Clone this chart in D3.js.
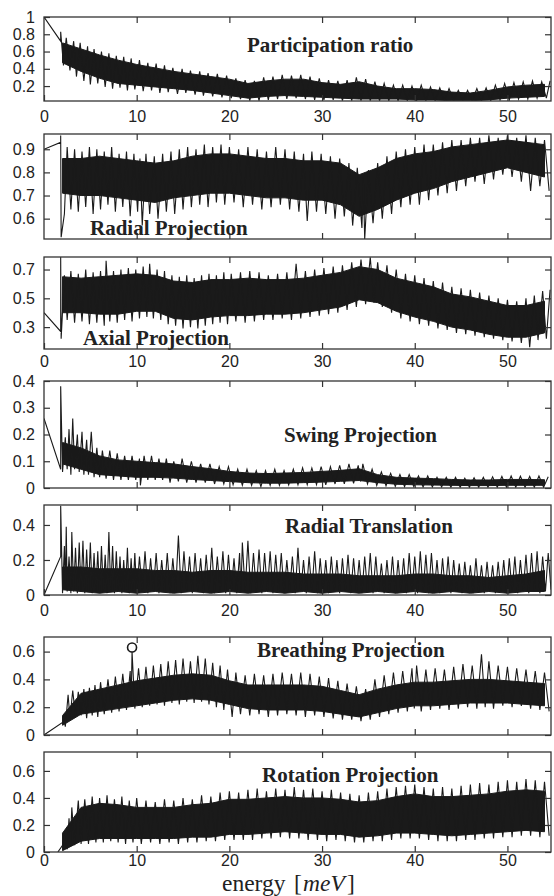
<!DOCTYPE html>
<html>
<head>
<meta charset="utf-8">
<script src="https://cdn.jsdelivr.net/npm/d3@7"></script>
<style>
body { margin: 0; background: #fff; }
</style>
</head>
<body>
<div id="chart"></div>
<script>
// energy grid of the band readings (meV)
var energy = [2,4,6,8,10,12,14,16,18,20,22,24,26,28,30,32,34,36,38,40,42,44,46,48,50,52,54];
var xTicks = [0,10,20,30,40,50];

// participation ratio
var prHi = [.70,.63,.56,.50,.45,.41,.37,.34,.31,.28,.23,.26,.28,.28,.24,.22,.25,.20,.17,.17,.16,.13,.12,.15,.19,.21,.22];
var prLo = [.47,.37,.29,.23,.21,.19,.17,.15,.12,.09,.06,.08,.09,.08,.07,.06,.05,.05,.05,.04,.04,.03,.03,.04,.06,.07,.08];
var prLead = [[0,1],[1.8,0.72]];
var prTrace = [[1.8,.83],[2.1,.44],[2.4,.76],[2.8,.38],[3.2,.72],[3.5,.31],[3.9,.70],[4.3,.26],[4.7,.66],[5.0,.22],[5.4,.63],[5.8,.23],[6.2,.60],[6.6,.19],[7.0,.58],[7.4,.17],[7.8,.55],[8.2,.18],[8.6,.54],[9.0,.15],[9.4,.52],[9.8,.16],[10.3,.50],[10.7,.14],[11.2,.47],[11.6,.15],[12.1,.46],[12.5,.12],[13.0,.44],[13.4,.13],[13.9,.41],[14.4,.11],[14.9,.40],[15.3,.12],[15.8,.38],[16.3,.10],[16.8,.37],[17.2,.09],[17.7,.35],[18.2,.08],[18.7,.34],[19.2,.07],[19.7,.32],[20.2,.06],[20.7,.29],[21.2,.05],[21.7,.27],[22.2,.03],[22.7,.26],[23.2,.03],[23.7,.30],[24.2,.04],[24.7,.31],[25.2,.05],[25.7,.33],[26.2,.05],[26.7,.32],[27.2,.06],[27.7,.33],[28.2,.05],[28.7,.31],[29.2,.04],[29.7,.29],[30.2,.04],[30.7,.27],[31.2,.04],[31.7,.26],[32.2,.03],[32.7,.27],[33.2,.03],[33.7,.30],[34.2,.03],[34.7,.28],[35.2,.03],[35.7,.25],[36.2,.03],[36.7,.23],[37.2,.03],[37.7,.21],[38.2,.03],[38.7,.21],[39.2,.03],[39.7,.20],[40.2,.03],[40.7,.21],[41.2,.03],[41.7,.19],[42.2,.03],[42.7,.18],[43.2,.03],[43.7,.17],[44.2,.03],[44.7,.15],[45.2,.03],[45.7,.15],[46.2,.03],[46.7,.17],[47.2,.03],[47.7,.18],[48.2,.03],[48.7,.21],[49.2,.04],[49.7,.23],[50.2,.04],[50.7,.24],[51.2,.05],[51.7,.25],[52.2,.05],[52.7,.26],[53.2,.06],[53.7,.25],[54.2,.06],[54.6,.26]];

// radial projection
var radHi = [.86,.86,.87,.86,.85,.84,.85,.87,.88,.88,.87,.86,.86,.85,.85,.84,.79,.82,.86,.88,.89,.91,.92,.93,.94,.93,.92];
var radLo = [.71,.70,.70,.69,.68,.67,.69,.70,.71,.71,.70,.69,.69,.68,.68,.66,.61,.64,.68,.71,.73,.76,.78,.80,.82,.80,.78];
var radLead = [[0,0.90],[1.8,0.93]];
var radTrace = [[1.8,.96],[1.85,.52],[2.2,.62],[2.5,.91],[2.9,.64],[3.3,.90],[3.7,.63],[4.1,.89],[4.5,.65],[4.9,.91],[5.3,.62],[5.7,.90],[6.1,.64],[6.5,.89],[6.9,.66],[7.3,.91],[7.7,.63],[8.1,.88],[8.5,.65],[8.9,.89],[9.3,.61],[9.7,.88],[10.1,.63],[10.35,.86],[10.6,.57],[11.0,.88],[11.4,.62],[11.9,.87],[12.3,.60],[12.8,.88],[13.2,.63],[13.7,.89],[14.1,.62],[14.6,.90],[15.0,.64],[15.5,.91],[15.9,.65],[16.4,.90],[16.8,.66],[17.3,.92],[17.7,.65],[18.2,.91],[18.6,.67],[19.1,.92],[19.5,.66],[20.0,.91],[20.5,.67],[21.0,.90],[21.5,.65],[22.0,.91],[22.5,.66],[23.0,.90],[23.5,.64],[24.0,.89],[24.5,.65],[25.0,.91],[25.5,.66],[26.0,.90],[26.5,.64],[27.0,.89],[27.5,.63],[28.0,.88],[28.4,.59],[28.9,.89],[29.4,.63],[29.9,.88],[30.4,.62],[30.9,.87],[31.4,.60],[31.9,.86],[32.4,.61],[32.9,.84],[33.3,.57],[33.8,.82],[34.3,.56],[34.45,.78],[34.6,.51],[35.0,.81],[35.5,.58],[36.0,.84],[36.5,.60],[37.0,.87],[37.5,.62],[38.0,.89],[38.5,.65],[39.0,.90],[39.5,.66],[40.0,.91],[40.5,.66],[41.0,.92],[41.5,.68],[42.0,.92],[42.5,.70],[43.0,.93],[43.5,.71],[44.0,.94],[44.5,.72],[45.0,.94],[45.5,.74],[46.0,.95],[46.5,.76],[47.0,.95],[47.5,.75],[48.0,.96],[48.5,.77],[49.0,.95],[49.5,.79],[50.0,.96],[50.5,.78],[51.0,.95],[51.5,.76],[52.0,.96],[52.5,.72],[53.0,.95],[53.5,.74],[54.0,.94],[54.5,.72]];

// axial projection
var axHi = [.65,.64,.65,.66,.67,.66,.62,.61,.63,.63,.64,.63,.63,.64,.66,.68,.72,.70,.64,.61,.58,.53,.51,.48,.45,.45,.48];
var axLo = [.40,.40,.39,.39,.41,.41,.36,.35,.37,.38,.38,.39,.39,.40,.42,.44,.49,.47,.41,.37,.34,.30,.28,.25,.23,.23,.26];
var axLead = [[0,0.40],[1.8,0.27]];
var axTrace = [[1.8,.787],[1.85,.22],[2.2,.66],[2.5,.35],[2.9,.69],[3.3,.33],[3.7,.67],[4.1,.34],[4.5,.70],[4.9,.32],[5.3,.68],[5.7,.33],[6.1,.69],[6.5,.31],[6.7,.76],[7.1,.34],[7.5,.69],[7.9,.33],[8.3,.70],[8.7,.35],[9.1,.71],[9.5,.34],[9.9,.70],[10.3,.36],[10.7,.72],[11.1,.37],[11.4,.74],[11.8,.36],[12.2,.70],[12.6,.35],[13.0,.69],[13.4,.32],[13.8,.66],[14.2,.31],[14.6,.65],[15.0,.29],[15.4,.66],[15.8,.30],[16.2,.64],[16.6,.29],[17.0,.66],[17.4,.31],[17.8,.67],[18.2,.32],[18.6,.66],[19.0,.33],[19.4,.68],[19.8,.32],[20.2,.67],[20.7,.34],[21.2,.68],[21.7,.33],[22.2,.69],[22.7,.34],[23.2,.68],[23.7,.35],[24.2,.66],[24.7,.35],[25.2,.67],[25.7,.36],[26.2,.68],[26.7,.35],[27.2,.74],[27.7,.36],[28.2,.69],[28.7,.37],[29.2,.70],[29.7,.38],[30.2,.71],[30.7,.39],[31.2,.72],[31.7,.40],[32.2,.73],[32.7,.42],[33.2,.75],[33.7,.44],[34.2,.77],[34.7,.46],[35.2,.785],[35.6,.47],[36.0,.75],[36.5,.44],[37.0,.73],[37.5,.40],[38.0,.70],[38.5,.36],[39.0,.67],[39.5,.34],[40.0,.66],[40.5,.32],[41.0,.64],[41.5,.31],[42.0,.62],[42.5,.29],[43.0,.61],[43.5,.28],[44.0,.58],[44.5,.26],[45.0,.57],[45.5,.25],[46.0,.56],[46.5,.24],[47.0,.54],[47.5,.23],[48.0,.52],[48.5,.22],[49.0,.50],[49.5,.21],[50.0,.49],[50.5,.20],[51.0,.48],[51.5,.19],[52.0,.50],[52.4,.16],[52.9,.52],[53.3,.21],[53.8,.55],[54.2,.22],[54.6,.56]];

// swing projection
var swHi = [.17,.15,.12,.105,.10,.095,.09,.08,.072,.062,.056,.054,.056,.058,.062,.066,.072,.05,.04,.037,.035,.032,.03,.03,.032,.032,.031];
var swLo = [.09,.07,.05,.045,.04,.04,.037,.032,.028,.024,.02,.018,.018,.02,.022,.025,.028,.02,.014,.012,.011,.01,.009,.009,.01,.01,.01];
var swLead = [[0,0.26],[1.8,0.07]];
var swTrace = [[1.8,.38],[2.0,.06],[2.3,.19],[2.5,.07],[2.7,.22],[2.9,.05],[3.1,.26],[3.3,.07],[3.6,.20],[3.8,.06],[4.1,.21],[4.3,.05],[4.6,.18],[4.8,.05],[5.1,.21],[5.4,.04],[5.7,.15],[6.0,.04],[6.3,.14],[6.7,.035],[7.1,.14],[7.5,.03],[7.9,.13],[8.3,.03],[8.7,.12],[9.1,.03],[9.5,.12],[9.9,.03],[10.3,.11],[10.4,.01],[10.8,.12],[11.2,.03],[11.6,.12],[12.0,.03],[12.4,.11],[12.8,.03],[13.2,.11],[13.6,.02],[14.0,.10],[14.5,.025],[14.9,.11],[15.4,.02],[15.9,.10],[16.4,.02],[16.9,.09],[17.4,.02],[17.9,.09],[18.4,.015],[18.9,.08],[19.4,.015],[19.9,.08],[20.4,.012],[20.9,.07],[21.4,.01],[21.9,.07],[22.4,.01],[22.9,.065],[23.4,.005],[23.9,.065],[24.4,.01],[24.9,.07],[25.4,.01],[25.9,.065],[26.4,.012],[26.9,.07],[27.4,.012],[27.9,.075],[28.4,.012],[28.9,.075],[29.4,.013],[29.9,.08],[30.4,.012],[30.9,.08],[31.4,.015],[31.9,.085],[32.4,.015],[32.9,.09],[33.4,.017],[33.9,.085],[34.15,.025],[34.4,.09],[34.9,.015],[35.4,.07],[35.9,.01],[36.4,.06],[36.9,.008],[37.4,.055],[37.9,.006],[38.4,.05],[38.9,.005],[39.4,.05],[39.9,.005],[40.4,.045],[40.9,.004],[41.4,.045],[41.9,.004],[42.4,.04],[42.9,.004],[43.4,.04],[43.9,.003],[44.4,.04],[44.9,.003],[45.4,.037],[45.9,.003],[46.4,.038],[46.9,.003],[47.4,.04],[47.9,.003],[48.4,.042],[48.9,.003],[49.4,.043],[49.9,.003],[50.4,.045],[50.9,.003],[51.4,.044],[51.9,.003],[52.4,.043],[52.9,.003],[53.4,.045],[53.9,.003],[54.4,.042]];

// radial translation
var rtHi = [.16,.16,.15,.15,.15,.14,.14,.13,.14,.14,.13,.13,.13,.12,.12,.12,.11,.11,.11,.12,.12,.11,.11,.10,.11,.12,.14];
var rtLo = [.03,.02,.01,.02,.01,.02,.01,.02,.01,.02,.01,.02,.01,.02,.01,.02,.01,.02,.01,.02,.01,.02,.01,.02,.01,.02,.02];
var rtLead = [[0,0],[1.8,0.22]];
var rtTrace = [[1.8,.51],[2.0,.01],[2.2,.28],[2.3,.03],[2.4,.39],[2.5,.02],[2.7,.22],[2.9,.01],[3.0,.36],[3.2,.02],[3.4,.27],[3.6,.01],[3.8,.30],[4.0,.02],[4.2,.31],[4.4,.01],[4.6,.26],[4.8,.02],[5.0,.30],[5.2,.01],[5.4,.24],[5.6,.02],[5.8,.25],[6.0,.01],[6.2,.28],[6.4,.02],[6.6,.23],[6.8,.01],[7.0,.36],[7.2,.02],[7.4,.28],[7.6,.01],[7.8,.25],[8.0,.02],[8.2,.22],[8.4,.01],[8.6,.20],[8.8,.02],[9.0,.27],[9.2,.01],[9.4,.21],[9.6,.02],[9.8,.24],[10.0,.01],[10.3,.22],[10.6,.02],[10.9,.25],[11.2,.01],[11.5,.21],[11.8,.02],[12.1,.24],[12.4,.01],[12.7,.20],[13.0,.02],[13.3,.24],[13.6,.01],[13.9,.21],[14.2,.02],[14.5,.34],[14.8,.01],[15.1,.25],[15.4,.02],[15.7,.22],[16.0,.01],[16.3,.24],[16.6,.02],[16.9,.21],[17.2,.01],[17.5,.23],[17.8,.02],[18.1,.27],[18.4,.01],[18.7,.22],[19.0,.02],[19.3,.25],[19.6,.01],[19.9,.23],[20.2,.02],[20.5,.21],[20.8,.01],[21.1,.24],[21.25,.02],[21.4,.30],[21.7,.02],[22.0,.31],[22.3,.01],[22.6,.24],[22.9,.02],[23.2,.26],[23.5,.01],[23.8,.24],[24.1,.02],[24.4,.25],[24.7,.01],[25.0,.23],[25.3,.02],[25.6,.24],[25.9,.01],[26.2,.20],[26.5,.02],[26.8,.22],[27.1,.01],[27.4,.27],[27.7,.02],[28.0,.20],[28.3,.01],[28.6,.22],[28.9,.02],[29.2,.25],[29.5,.01],[29.8,.21],[30.1,.02],[30.4,.20],[30.7,.01],[31.0,.22],[31.3,.02],[31.6,.20],[31.9,.01],[32.2,.21],[32.5,.02],[32.8,.23],[33.1,.01],[33.4,.21],[33.7,.02],[34.0,.20],[34.3,.01],[34.6,.22],[34.9,.02],[35.2,.24],[35.5,.01],[35.8,.22],[36.1,.02],[36.4,.18],[36.7,.01],[37.0,.20],[37.3,.02],[37.6,.22],[37.9,.01],[38.2,.20],[38.5,.02],[38.8,.21],[39.1,.01],[39.4,.24],[39.7,.02],[40.0,.22],[40.3,.01],[40.6,.25],[40.9,.02],[41.2,.23],[41.5,.01],[41.8,.24],[42.1,.02],[42.4,.20],[42.7,.01],[43.0,.21],[43.3,.02],[43.6,.22],[43.9,.01],[44.2,.20],[44.5,.02],[44.8,.18],[45.1,.01],[45.4,.19],[45.7,.02],[46.0,.17],[46.3,.01],[46.6,.21],[46.9,.02],[47.2,.17],[47.5,.01],[47.8,.19],[48.1,.02],[48.4,.17],[48.7,.01],[49.0,.19],[49.3,.02],[49.6,.20],[49.9,.01],[50.2,.21],[50.5,.02],[50.8,.22],[51.1,.01],[51.4,.20],[51.7,.02],[52.0,.23],[52.3,.01],[52.6,.24],[52.9,.02],[53.2,.25],[53.5,.01],[53.8,.22],[54.1,.02],[54.4,.24],[54.7,.03]];

// breathing projection
var brHi = [.14,.30,.33,.36,.39,.41,.43,.44,.43,.39,.36,.36,.36,.36,.35,.32,.29,.33,.36,.38,.38,.39,.40,.40,.39,.38,.37];
var brLo = [.07,.15,.17,.19,.21,.23,.25,.26,.25,.22,.19,.18,.18,.18,.17,.15,.13,.16,.19,.21,.21,.22,.23,.23,.23,.22,.21];
var brLead = [[0,0],[2.0,0.09]];
var brTrace = [[2.1,.13],[2.3,.06],[2.6,.29],[2.8,.12],[3.1,.32],[3.4,.13],[3.7,.31],[4.0,.14],[4.3,.33],[4.6,.12],[4.9,.34],[5.2,.14],[5.5,.36],[5.8,.13],[6.1,.38],[6.5,.15],[6.9,.40],[7.3,.16],[7.7,.42],[8.1,.17],[8.5,.44],[8.9,.18],[9.3,.46],[9.4,.22],[9.5,.60],[9.8,.19],[10.2,.48],[10.6,.20],[11.0,.49],[11.4,.21],[11.8,.50],[12.2,.22],[12.6,.51],[13.0,.21],[13.4,.53],[13.8,.23],[14.2,.54],[14.6,.22],[15.0,.55],[15.4,.24],[15.8,.53],[16.2,.23],[16.6,.57],[17.0,.24],[17.4,.55],[17.8,.22],[18.2,.52],[18.6,.20],[19.0,.50],[19.4,.18],[19.8,.47],[20.3,.13],[20.7,.45],[21.2,.15],[21.7,.43],[22.2,.14],[22.7,.44],[23.2,.15],[23.7,.43],[24.2,.13],[24.7,.44],[25.2,.14],[25.7,.45],[26.2,.15],[26.7,.44],[27.2,.14],[27.7,.45],[28.2,.13],[28.7,.44],[29.2,.14],[29.7,.42],[30.2,.13],[30.7,.41],[31.2,.12],[31.7,.39],[32.2,.11],[32.7,.37],[33.2,.11],[33.7,.35],[34.2,.10],[34.7,.33],[35.2,.11],[35.7,.40],[36.2,.13],[36.7,.43],[37.2,.15],[37.7,.45],[38.2,.16],[38.7,.46],[39.2,.17],[39.7,.48],[39.95,.19],[40.2,.50],[40.7,.17],[41.2,.47],[41.7,.18],[42.2,.48],[42.7,.19],[43.2,.47],[43.7,.18],[44.2,.49],[44.7,.19],[45.2,.51],[45.7,.20],[46.2,.50],[46.7,.19],[47.2,.58],[47.6,.20],[48.0,.53],[48.5,.19],[49.0,.50],[49.5,.21],[50.0,.49],[50.5,.20],[51.0,.48],[51.5,.21],[52.0,.47],[52.5,.19],[53.0,.46],[53.5,.18],[54.0,.45],[54.5,.17]];
var brMark = [[9.5,0.63]];

// rotation projection
var rotHi = [.14,.33,.36,.35,.33,.33,.33,.35,.36,.39,.39,.40,.41,.40,.40,.39,.37,.38,.41,.43,.41,.41,.42,.43,.45,.46,.45];
var rotLo = [.01,.08,.10,.10,.10,.10,.10,.11,.11,.13,.13,.14,.15,.14,.13,.13,.11,.12,.14,.14,.13,.12,.13,.14,.15,.16,.15];
var rotLead = [[1.5,0],[2.0,0.05]];
var rotTrace = [[2.2,.12],[2.5,.02],[2.7,.25],[2.85,.06],[3.0,.33],[3.3,.05],[3.7,.38],[4.0,.06],[4.4,.39],[4.8,.06],[5.2,.41],[5.6,.07],[6.0,.40],[6.4,.07],[6.8,.42],[7.2,.08],[7.6,.39],[8.0,.07],[8.4,.41],[8.8,.06],[9.2,.38],[9.6,.07],[10.0,.40],[10.5,.06],[11.0,.38],[11.5,.07],[12.0,.37],[12.5,.06],[13.0,.39],[13.5,.07],[14.0,.38],[14.5,.06],[15.0,.40],[15.5,.07],[16.0,.39],[16.5,.07],[17.0,.42],[17.5,.08],[18.0,.41],[18.5,.08],[19.0,.44],[19.5,.09],[20.0,.45],[20.5,.09],[21.0,.44],[21.5,.09],[22.0,.46],[22.5,.09],[23.0,.47],[23.5,.10],[24.0,.45],[24.5,.10],[25.0,.47],[25.5,.11],[26.0,.46],[26.5,.10],[27.0,.48],[27.5,.10],[28.0,.46],[28.5,.09],[29.0,.47],[29.5,.09],[30.0,.45],[30.5,.08],[31.0,.46],[31.5,.09],[32.0,.44],[32.5,.08],[33.0,.43],[33.5,.07],[34.0,.42],[34.5,.07],[35.0,.44],[35.5,.08],[36.0,.45],[36.5,.08],[37.0,.47],[37.5,.09],[38.0,.48],[38.5,.10],[39.0,.49],[39.5,.10],[40.0,.50],[40.5,.10],[41.0,.48],[41.5,.09],[42.0,.47],[42.5,.08],[43.0,.48],[43.5,.08],[44.0,.47],[44.5,.08],[45.0,.49],[45.5,.09],[46.0,.50],[46.5,.09],[47.0,.51],[47.5,.10],[48.0,.50],[48.5,.10],[49.0,.52],[49.5,.11],[50.0,.53],[50.5,.11],[51.0,.52],[51.5,.12],[52.0,.54],[52.5,.12],[53.0,.53],[53.5,.11],[54.0,.52],[54.5,.12]];

var w = 554, h = 896;
var left = 44, right = 551;
var ink = "#1a1a1a";
var sans = "'Liberation Sans', Arial, Helvetica, sans-serif";
var serif = "'Liberation Serif', 'Times New Roman', serif";

var panels = [
  {title:"Participation ratio", hi:prHi, lo:prLo, lead:prLead, trace:prTrace, ticks:[0.2,0.4,0.6,0.8,1], domain:[0.027,1], top:17, bottom:101, labels:true, pad:10, tx:247, ty:52},
  {title:"Radial Projection", hi:radHi, lo:radLo, lead:radLead, trace:radTrace, ticks:[0.6,0.7,0.8,0.9], domain:[0.512,0.966], top:134, bottom:239, labels:false, tx:90, ty:235},
  {title:"Axial Projection", hi:axHi, lo:axLo, lead:axLead, trace:axTrace, ticks:[0.3,0.5,0.7], domain:[0.148,0.787], top:257, bottom:349, labels:true, pad:7, tx:83, ty:345},
  {title:"Swing Projection", hi:swHi, lo:swLo, lead:swLead, trace:swTrace, ticks:[0,0.1,0.2,0.3,0.4], domain:[0,0.4], top:381, bottom:488, labels:false, tx:284, ty:442},
  {title:"Radial Translation", hi:rtHi, lo:rtLo, lead:rtLead, trace:rtTrace, ticks:[0,0.2,0.4], domain:[0,0.514], top:505, bottom:595, labels:true, pad:10, tx:285, ty:533},
  {title:"Breathing Projection", hi:brHi, lo:brLo, lead:brLead, trace:brTrace, mark:brMark, ticks:[0,0.2,0.4,0.6], domain:[0,0.705], top:637, bottom:735, labels:false, tx:257, ty:657},
  {title:"Rotation Projection", hi:rotHi, lo:rotLo, lead:rotLead, trace:rotTrace, ticks:[0,0.2,0.4,0.6], domain:[0,0.74], top:752, bottom:852, labels:true, pad:3, tx:262, ty:782}
];

var svg = d3.select("#chart")
  .append("svg")
  .attr("width", w)
  .attr("height", h)
  .style("background", "#fff");

var x = d3.scaleLinear().domain([0, 54.7]).range([left, right]);

panels.forEach(function(p, k){
  var y = d3.scaleLinear().domain(p.domain).range([p.bottom, p.top]);
  var g = svg.append("g");

  svg.append("clipPath").attr("id", "clip" + k)
    .append("rect")
    .attr("x", left).attr("y", p.top)
    .attr("width", right - left).attr("height", p.bottom - p.top);

  var data = g.append("g").attr("clip-path", "url(#clip" + k + ")");

  // dense core of the noisy signal
  var band = energy.map(function(e, i){ return {e: e, hi: p.hi[i], lo: p.lo[i]}; });
  data.append("path")
    .datum(band)
    .attr("d", d3.area()
      .x(function(d){ return x(d.e); })
      .y0(function(d){ return y(d.lo); })
      .y1(function(d){ return y(d.hi); }))
    .attr("fill", ink)
    .attr("stroke", ink)
    .attr("stroke-width", 1);

  // the signal itself: lead-in segment, then the traced extremes
  var pts = p.lead.concat(d3.sort(p.trace, function(d){ return d[0]; }));
  data.append("path")
    .datum(pts)
    .attr("d", d3.line().x(function(d){ return x(d[0]); }).y(function(d){ return y(d[1]); }))
    .attr("fill", "none")
    .attr("stroke", ink)
    .attr("stroke-width", 1.1);

  if (p.mark) {
    g.selectAll("circle")
      .data(p.mark)
      .enter()
      .append("circle")
      .attr("cx", function(d){ return x(d[0]); })
      .attr("cy", function(d){ return y(d[1]); })
      .attr("r", 4.5)
      .attr("fill", "#fff")
      .attr("stroke", ink)
      .attr("stroke-width", 1.6);
  }

  // frame
  g.append("rect")
    .attr("x", left).attr("y", p.top)
    .attr("width", right - left).attr("height", p.bottom - p.top)
    .attr("fill", "none")
    .attr("stroke", "#333")
    .attr("stroke-width", 1.3);

  var axes = g.append("g");

  axes.append("g")
    .attr("transform", "translate(" + left + ",0)")
    .call(d3.axisLeft(y).tickValues(p.ticks).tickSize(-6).tickPadding(9).tickFormat(d3.format("~g")));

  axes.append("g")
    .attr("transform", "translate(" + right + ",0)")
    .call(d3.axisRight(y).tickValues(p.ticks).tickSize(-6).tickFormat(""));

  axes.append("g")
    .attr("transform", "translate(0," + p.top + ")")
    .call(d3.axisTop(x).tickValues(xTicks.slice(1)).tickSize(-6).tickFormat(""));

  axes.append("g")
    .attr("transform", "translate(0," + p.bottom + ")")
    .call(d3.axisBottom(x).tickValues(p.labels ? xTicks : xTicks.slice(1)).tickSize(-6).tickPadding(p.pad || 10)
      .tickFormat(p.labels ? d3.format("d") : ""));

  axes.selectAll(".domain").remove();
  axes.selectAll(".tick line").attr("stroke", "#333").attr("stroke-width", 1.2);
  axes.selectAll(".tick text")
    .attr("fill", "#222")
    .attr("font-family", sans)
    .attr("font-size", 16);

  g.append("text")
    .attr("x", p.tx)
    .attr("y", p.ty)
    .attr("font-family", serif)
    .attr("font-weight", "bold")
    .attr("font-size", 21)
    .attr("fill", "#222")
    .text(p.title);
});

// axis title, pieces spaced like the typeset math label
var xl = svg.append("text")
  .attr("y", 890.5)
  .attr("font-family", serif)
  .attr("font-size", 23.5)
  .attr("fill", "#222");
xl.append("tspan").attr("x", 222).text("energy");
xl.append("tspan").attr("x", 294).text("[");
xl.append("tspan").attr("x", 303).attr("font-style", "italic").text("meV");
xl.append("tspan").attr("x", 347).text("]");
</script>
</body>
</html>
